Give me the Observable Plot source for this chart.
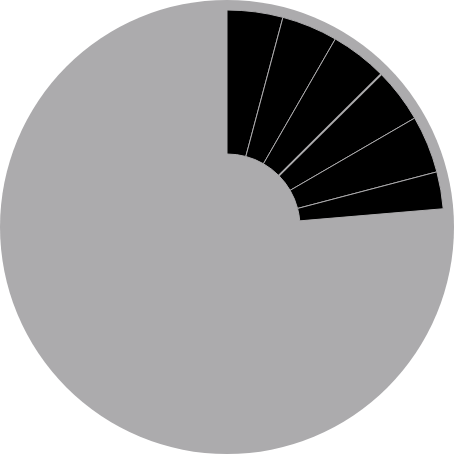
<!DOCTYPE html>
<html><head><meta charset="utf-8">
<script src="https://cdn.jsdelivr.net/npm/d3@7"></script>
<script src="https://cdn.jsdelivr.net/npm/@observablehq/plot@0.6"></script>
<style>body{margin:0;background:#fff}</style></head>
<body><div id="chart"></div>
<script>
const categories = ["A", "B", "C", "D", "E", "F", "Rest"];
const shares = [4.15, 4.17, 4.25, 4.06, 4.28, 2.75, 76.34];
const kinds = ["part", "part", "part", "part", "part", "part", "rest"];
const data = categories.map((c, i) => ({category: c, value: shares[i], kind: kinds[i]}));

const W = 454, cx = 227, cy = 227;
const grey = "#acabad";

const chart = Plot.plot({
  width: W, height: W, margin: 0,
  x: {domain: [0, 100], range: [0, 2 * Math.PI], axis: null},
  color: {domain: ["part", "rest"], range: ["#000000", grey]},
  marks: [
    Plot.barX(data, {
      x: "value",
      fill: "kind",
      render(index, scales, values) {
        const g = d3.create("svg:g");
        g.append("circle").attr("cx", cx).attr("cy", cy).attr("r", 227).attr("fill", grey);
        const arc = d3.arc();
        const inner = 73, outer = 217;
        for (const i of index) {
          if (data[i].kind === "rest") continue;
          g.append("path")
            .attr("transform", `translate(${cx},${cy})`)
            .attr("d", arc({innerRadius: inner, outerRadius: outer, startAngle: values.x1[i], endAngle: values.x2[i]}))
            .attr("fill", values.fill[i])
            .attr("stroke", grey)
            .attr("stroke-width", 1);
        }
        // the separator after the third wedge is drawn a little wider
        const a = values.x2[2];
        g.append("line")
          .attr("x1", cx + inner * Math.sin(a)).attr("y1", cy - inner * Math.cos(a))
          .attr("x2", cx + outer * Math.sin(a)).attr("y2", cy - outer * Math.cos(a))
          .attr("stroke", grey).attr("stroke-width", 2);
        return g.node();
      }
    })
  ]
});
document.getElementById("chart").append(chart);
</script>
</body></html>
